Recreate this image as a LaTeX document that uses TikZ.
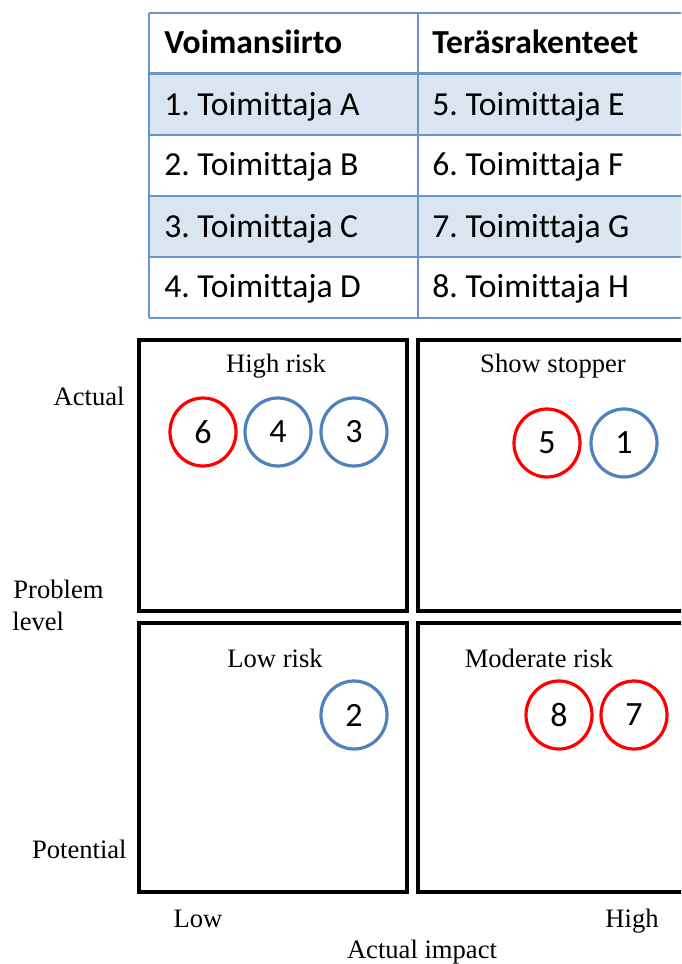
\documentclass[tikz,border=0pt]{standalone}
\usepackage{fontspec}
\setmainfont{Liberation Serif}
\newfontfamily\calibri[Ligatures=NoCommon]{Carlito}
\usetikzlibrary{shapes.geometric,shadows}
\definecolor{tblline}{HTML}{6A95CC}
\definecolor{tblfill}{HTML}{DBE5F1}
\definecolor{supred}{HTML}{FF0000}
\definecolor{supblue}{HTML}{4F81BD}
\frenchspacing

\begin{document}
\begin{tikzpicture}[x=0.5pt,y=-0.5pt]
      \tikzstyle{quad}=[line width=2pt, fill=white,
        drop shadow={opacity=0.3, shadow xshift=0.6pt, shadow yshift=-0.8pt}]
      \tikzstyle{cell}=[anchor=base west, inner sep=0pt,
        font=\calibri\fontsize{16.8}{20}\selectfont]
      \tikzstyle{head}=[cell, font=\calibri\bfseries\fontsize{16.8}{20}\selectfont]
      \tikzstyle{lbl}=[inner sep=0pt, font=\fontsize{13.3}{16}\selectfont]
      \tikzstyle{sup}=[ellipse, minimum width=33pt, minimum height=34pt,
        inner sep=0pt, line width=1.6pt, fill=white,
        font=\calibri\fontsize{17}{20}\selectfont]
      \tikzstyle{redsup}=[sup, draw=supred]
      \tikzstyle{bluesup}=[sup, draw=supblue]

      \clip (0,0) rectangle (681,964);

      % supplier table
      \fill[tblfill] (149,73) rectangle (700,135)
        (149,196) rectangle (700,257);
      \foreach \y in {13,135,196,257,318}
        \draw[tblline, line width=1pt] (149,\y) -- (700,\y);
      \draw[tblline, line width=1.5pt] (149,73) -- (700,73);
      \draw[tblline, line width=1pt] (149,13) -- (149,318)
        (418,13) -- (418,318);

      \node[head] (headA) at (164,53) {Voimansiirto};
      \node[head] (headB) at (432,53) {Teräsrakenteet};
      \foreach \n/\a/\m/\b/\y [count=\r] in
          {1/A/5/E/115, 2/B/6/F/175, 3/C/7/G/237, 4/D/8/H/297} {
        \node[cell] (rowA\r) at (164,\y) {\n. Toimittaja \a};
        \node[cell] (rowB\r) at (432,\y) {\m. Toimittaja \b};
      }

      % quadrants
      \draw[quad] (139,340) rectangle (407,611);
      \draw[quad] (418,340) rectangle (700,611);
      \draw[quad] (139,623) rectangle (407,892);
      \draw[quad] (418,623) rectangle (700,892);

      \node[lbl, anchor=base] (highrisk) at (276,372) {High risk};
      \node[lbl, anchor=base] (stopper) at (553,372) {Show stopper};
      \node[lbl, anchor=base] (lowrisk) at (275,667) {Low risk};
      \node[lbl, anchor=base] (modrisk) at (539,667) {Moderate risk};

      % suppliers
      \node[redsup] (s6) at (203,432) {6};
      \node[bluesup] (s4) at (278,432) {4};
      \node[bluesup] (s3) at (354,432) {3};
      \node[redsup] (s5) at (547,443) {5};
      \node[bluesup] (s1) at (624,443) {1};
      \node[bluesup] (s2) at (354,715) {2};
      \node[redsup] (s8) at (559,715) {8};
      \node[redsup] (s7) at (634,715) {7};

      % axes
      \node[lbl, anchor=base east] (actual) at (125,405) {Actual};
      \node[lbl, anchor=base west] (problem) at (13,598) {Problem};
      \node[lbl, anchor=base west] (level) at (12,630) {level};
      \node[lbl, anchor=base east] (potential) at (127,858) {Potential};
      \node[lbl, anchor=base] (low) at (198,927) {Low};
      \node[lbl, anchor=base] (high) at (632,927) {High};
      \node[lbl, anchor=base] (impact) at (422,958) {Actual impact};
\end{tikzpicture}
\end{document}
